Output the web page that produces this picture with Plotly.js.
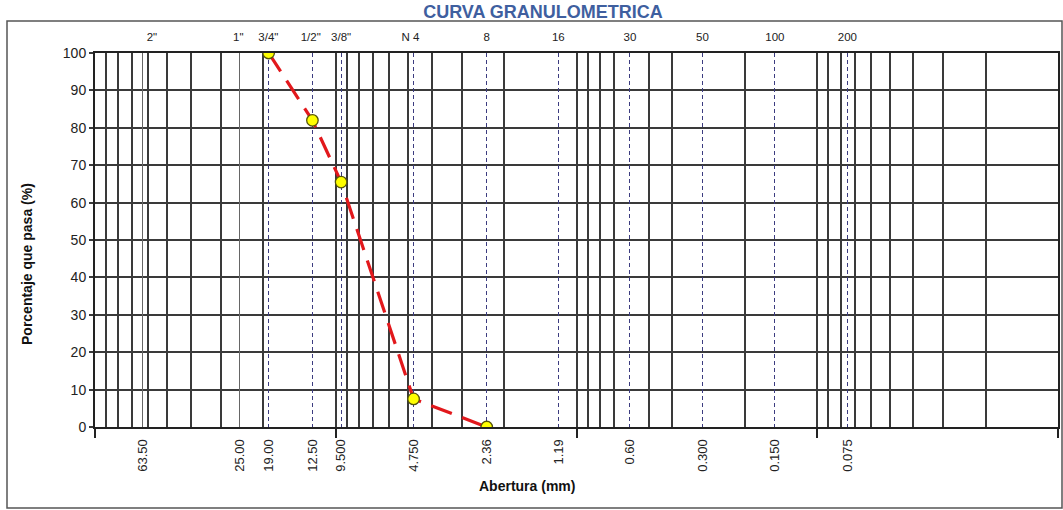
<!DOCTYPE html>
<html>
<head>
<meta charset="utf-8">
<script src="https://cdn.plot.ly/plotly-3.0.1.min.js"></script>
<style>html,body{margin:0;padding:0;background:#fff;}#chart{width:1063px;height:510px;}</style>
</head>
<body>
<div id="chart"></div>
<script>
// Data
const sieveSizes = [19.0, 12.5, 9.5, 4.75, 2.36];
const percentPassing = [100, 82, 65.5, 7.5, 0];

const sieveGridVals = [19.0, 12.5, 9.5, 4.75, 2.36, 1.19, 0.6, 0.3, 0.15, 0.075];
const sieveGridText = ['19.00', '12.50', '9.500', '4.750', '2.36', '1.19', '0.60', '0.300', '0.150', '0.075'];

const extraVals = [63.5, 25.0];
const extraText = ['63.50', '25.00'];

const topLabelVals = [58, 25.4, 19.05, 12.7, 9.5, 4.9, 2.36, 1.19, 0.6, 0.3, 0.15, 0.075];
const topLabelText = ['2"', '1"', '3/4"', '1/2"', '3/8"', 'N 4', '8', '16', '30', '50', '100', '200'];

// solid log grid lines seen in the picture
const gridVals = [90, 80, 70, 60, 50, 40, 30, 20,
                  10, 9, 8, 7, 6, 5, 4, 3, 2,
                  1, 0.9, 0.8, 0.7, 0.5, 0.4, 0.2,
                  0.1, 0.09, 0.08, 0.07, 0.06, 0.05, 0.04, 0.03, 0.02];

const decadeVals = [100, 10, 1, 0.1, 0.01];
const yTicks = [0, 10, 20, 30, 40, 50, 60, 70, 80, 90, 100];

const FONT = 'Liberation Sans, Arial, sans-serif';
const xRange = [2, -2]; // log10(100) .. log10(0.01), reversed
const GRID = '#3a3a3a';

const trace = {
  x: sieveSizes,
  y: percentPassing,
  type: 'scatter',
  mode: 'lines+markers',
  xaxis: 'x',
  yaxis: 'y',
  line: {color: 'rgb(226,24,28)', width: 3.2, dash: '22px,11px'},
  marker: {size: 11.5, color: '#ffff00', line: {color: '#55550a', width: 1.3}},
  hoverinfo: 'x+y'
};

const baseX = {
  type: 'log',
  range: xRange,
  autorange: false,
  overlaying: 'x',
  anchor: 'y',
  showline: false,
  zeroline: false,
  fixedrange: true
};

const layout = {
  width: 1063,
  height: 510,
  margin: {l: 95, r: 5, t: 53, b: 83},
  paper_bgcolor: '#ffffff',
  plot_bgcolor: '#ffffff',
  showlegend: false,
  font: {family: FONT, color: '#222'},
  title: {
    text: '<b>CURVA GRANULOMETRICA</b>',
    font: {family: FONT, size: 18, color: '#3f5f9f'},
    x: 543 / 1063, xanchor: 'center',
    y: 1 - 12 / 510, yanchor: 'middle'
  },
  xaxis: {
    type: 'log',
    range: xRange,
    autorange: false,
    tickmode: 'array',
    tickvals: gridVals,
    showticklabels: false,
    ticks: '',
    showgrid: true,
    gridcolor: GRID,
    gridwidth: 2,
    showline: true,
    linecolor: '#222',
    linewidth: 2,
    mirror: true,
    zeroline: false,
    fixedrange: true
  },
  xaxis2: Object.assign({}, baseX, {
    tickmode: 'array',
    tickvals: sieveGridVals,
    ticktext: sieveGridText,
    tickangle: -90,
    ticks: 'outside',
    ticklen: 6,
    tickcolor: 'rgba(0,0,0,0)',
    tickfont: {family: FONT, size: 13, color: '#222'},
    showgrid: true,
    gridcolor: '#3c3c80',
    gridwidth: 1,
    griddash: '4px,3px',
    side: 'bottom'
  }),
  xaxis3: Object.assign({}, baseX, {
    tickmode: 'array',
    tickvals: extraVals,
    ticktext: extraText,
    tickangle: -90,
    ticks: 'outside',
    ticklen: 6,
    tickcolor: 'rgba(0,0,0,0)',
    tickfont: {family: FONT, size: 13, color: '#222'},
    showgrid: true,
    gridcolor: '#666',
    gridwidth: 1,
    side: 'bottom'
  }),
  xaxis4: Object.assign({}, baseX, {
    tickmode: 'array',
    tickvals: topLabelVals,
    ticktext: topLabelText,
    ticks: 'outside',
    ticklen: 6,
    tickcolor: 'rgba(0,0,0,0)',
    tickfont: {family: FONT, size: 11.5, color: '#222'},
    showgrid: false,
    side: 'top'
  }),
  xaxis5: Object.assign({}, baseX, {
    tickmode: 'array',
    tickvals: decadeVals,
    showticklabels: false,
    ticks: 'outside',
    ticklen: 10,
    tickwidth: 2,
    tickcolor: '#222',
    showgrid: false,
    side: 'bottom'
  }),
  yaxis: {
    range: [0, 100],
    autorange: false,
    tickmode: 'array',
    tickvals: yTicks,
    ticks: 'outside',
    ticklen: 4,
    tickwidth: 2,
    tickcolor: GRID,
    tickfont: {family: FONT, size: 14, color: '#222'},
    showgrid: true,
    gridcolor: GRID,
    gridwidth: 2,
    showline: true,
    linecolor: '#222',
    linewidth: 2,
    mirror: true,
    zeroline: false,
    fixedrange: true
  },
  annotations: [
    {
      text: '<b>Porcentaje que pasa (%)</b>',
      textangle: -90,
      xref: 'paper', yref: 'paper',
      x: (27 - 95) / 963, y: (427 - 264) / 374,
      xanchor: 'center', yanchor: 'middle',
      showarrow: false,
      font: {family: FONT, size: 14, color: '#111'}
    },
    {
      text: '<b>Abertura (mm)</b>',
      xref: 'paper', yref: 'paper',
      x: (527 - 95) / 963, y: (427 - 486) / 374,
      xanchor: 'center', yanchor: 'middle',
      showarrow: false,
      font: {family: FONT, size: 14, color: '#111'}
    }
  ],
  shapes: [
    {
      type: 'rect', xref: 'paper', yref: 'paper', layer: 'below',
      x0: (7 - 95) / 963, x1: (1062 - 95) / 963,
      y0: (427 - 508) / 374, y1: (427 - 21) / 374,
      line: {color: '#555', width: 1.5}
    }
  ]
};

// empty helper traces so the overlay axes exist as subplots
const helpers = ['x2', 'x3', 'x4', 'x5'].map(ax => ({
  x: [], y: [], type: 'scatter', mode: 'markers', xaxis: ax, yaxis: 'y', hoverinfo: 'skip', showlegend: false
}));

Plotly.newPlot('chart', helpers.concat([trace]), layout, {displayModeBar: false, staticPlot: true});
</script>
</body>
</html>
